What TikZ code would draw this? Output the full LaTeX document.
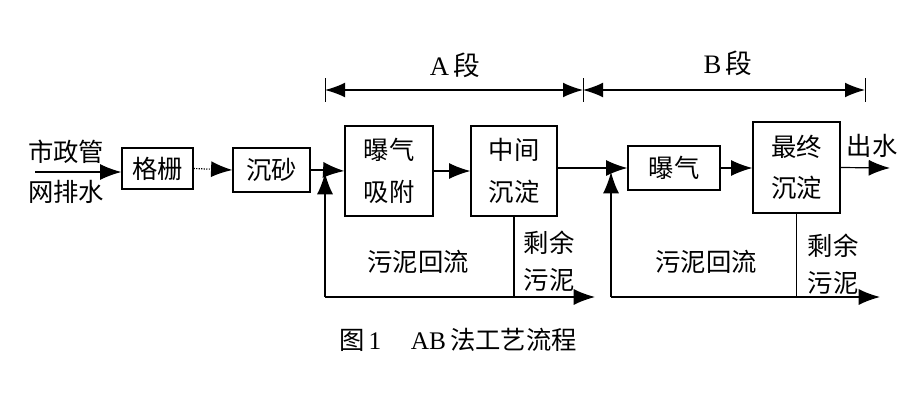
\documentclass[tikz,border=0pt]{standalone}
\usepackage{fontspec}
\setmainfont{Liberation Serif}
\newfontfamily\cjk{Noto Sans CJK SC}
\usetikzlibrary{arrows.meta}
\begin{document}
\begin{tikzpicture}[x=0.75pt,y=-0.75pt,
  box/.style={draw, line width=0.9pt, inner sep=0pt, font=\cjk\fontsize{19}{31}\selectfont, align=center},
  lbl/.style={font=\cjk\fontsize{19}{28}\selectfont, align=center, inner sep=0pt},
  conn/.style={line width=0.9pt},
  arr/.style={conn, -{Latex[length=16pt,width=12pt]}},
  dim/.style={conn, {Latex[length=15pt,width=11pt]}-{Latex[length=15pt,width=11pt]}},
  tick/.style={line width=0.7pt}
]
\useasboundingbox (0,0) rectangle (910,400);

% boxes
\node[box, minimum width=71*0.75pt, minimum height=41*0.75pt] (gs) at (157.5,168.5) {格栅};
\node[box, minimum width=77*0.75pt, minimum height=44*0.75pt] (cs) at (271.5,170) {沉砂};
\node[box, minimum width=88*0.75pt, minimum height=90*0.75pt] (bqxf) at (389,171) {曝气\\吸附};
\node[box, minimum width=86*0.75pt, minimum height=90*0.75pt] (zjcd) at (514,171) {中间\\沉淀};
\node[box, minimum width=92*0.75pt, minimum height=44*0.75pt] (bq) at (674,168) {曝气};
\node[box, minimum width=87*0.75pt, minimum height=91*0.75pt] (zzcd) at (796.5,167.5) {最终\\沉淀};

% labels
\node[lbl] (in1) at (66,152) {市政管};
\node[lbl] (in2) at (66,192) {网排水};
\node[lbl, font=\cjk\fontsize{20}{28}\selectfont] (Alab) at (455,65) {\rmfamily A\,{\cjk 段}};
\node[lbl, font=\cjk\fontsize{20}{28}\selectfont] (Blab) at (728,63) {\rmfamily B\,{\cjk 段}};
\node[lbl] (retA) at (418,262) {污泥回流};
\node[lbl] (retB) at (706,262) {污泥回流};
\node[lbl] (exA) at (549,261) {剩余\\污泥};
\node[lbl] (exB) at (833,264) {剩余\\污泥};
\node[lbl] (out) at (872,146) {出水};
\node[lbl, font=\cjk\fontsize{19}{22}\selectfont] (cap) at (458,340) {图\,{\rmfamily 1}\quad\,{\rmfamily AB}\,法工艺流程};

% coordinates
\coordinate (inS) at (35,172);
\coordinate (jA) at (325,170);
\coordinate (jAt) at (325,173);
\coordinate (bA) at (325,297);
\coordinate (eA) at (595,297);
\coordinate (jB) at (611,168);
\coordinate (jBt) at (611,172);
\coordinate (bB) at (611,297);
\coordinate (eB) at (880,297);
\coordinate (outE) at (890,168);
\coordinate (d1) at (325,90);
\coordinate (d2) at (583,90);
\coordinate (d3) at (865,90);

% main flow
\draw[arr] (inS) -- (gs.west |- inS);
\draw[conn, densely dotted, -{Latex[length=16pt,width=12pt]}] (gs.east) -- (cs.west);
\draw[conn] (cs.east) -- (jA);
\draw[arr] (jA) -- (bqxf.west);
\draw[arr] (bqxf.east) -- (zjcd.west);
\draw[conn] (zjcd.east |- jB) -- (jB);
\draw[arr] (jB) -- (bq.west);
\draw[arr] (bq.east) -- (zzcd.west |- bq.east);
\draw[arr] (zzcd.east) -- (outE);

% A return
\draw[arr] (bA) -- (jAt);
\draw[arr] (bA) -- (eA);
\draw[conn] (zjcd.south) -- (zjcd.south |- bA);
% B return
\draw[arr] (bB) -- (jBt);
\draw[arr] (bB) -- (eB);
\draw[conn] (zzcd.south) -- (zzcd.south |- bB);

% dimension lines
\draw[dim] (d1) -- (d2);
\draw[dim] (d2) -- (d3);
\draw[tick] (325,78) -- (325,102);
\draw[tick] (583,78) -- (583,102);
\draw[tick] (865,78) -- (865,102);
\end{tikzpicture}
\end{document}
